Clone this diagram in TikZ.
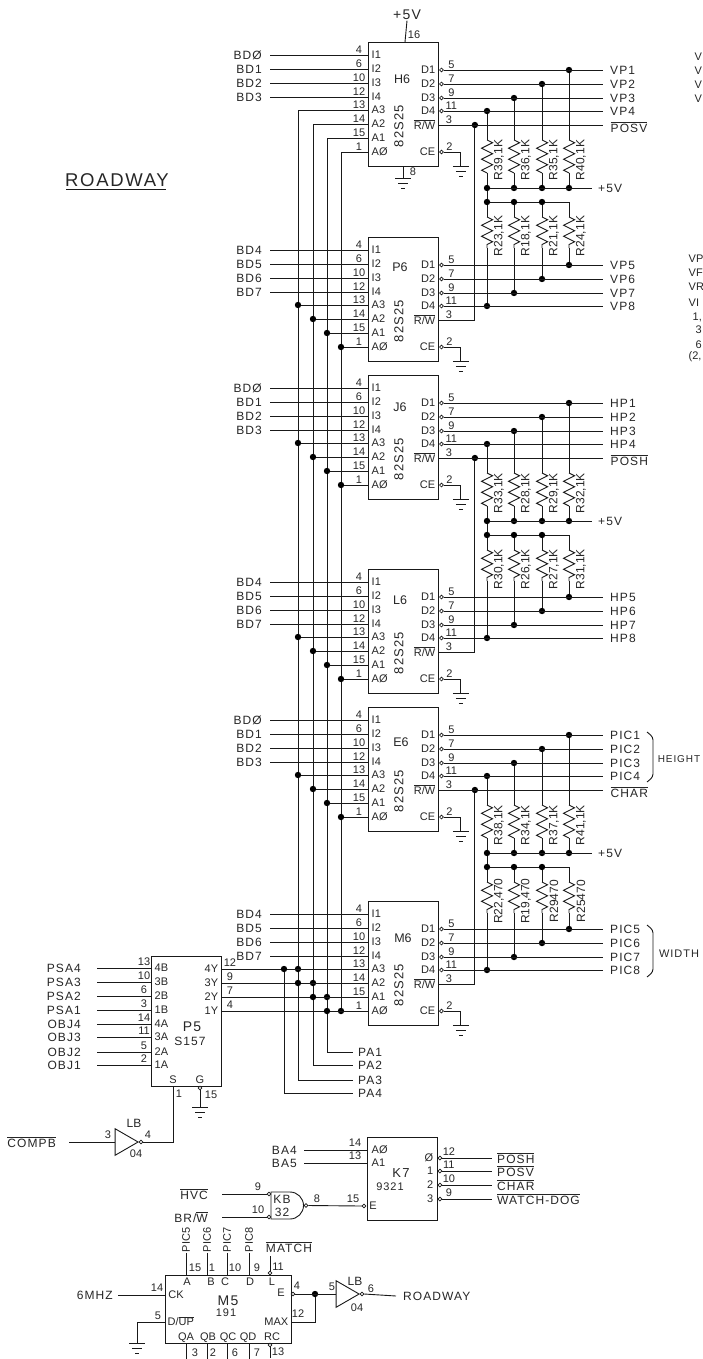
\documentclass[tikz,border=0pt]{standalone}
\usepackage{fontspec}
\setmainfont{Liberation Sans}
\newfontfamily\sigfont[LetterSpace=9]{Liberation Sans}
\usetikzlibrary{calc, shapes.geometric, decorations.pathmorphing}
\newcommand{\ovl}[1]{$\overline{\mbox{#1}}$}
\tikzset{
  gndsym/.pic={
    \draw[line width=0.9pt, black!90] (-8,0) -- (8,0);
    \draw[line width=0.9pt, black!90] (-5,5) -- (5,5);
    \draw[line width=0.9pt, black!90] (-2,10) -- (2,10);
  },
}

\begin{document}
\begin{tikzpicture}[
  x=1pt,y=-1pt,
  wire/.style={line width=0.9pt, draw=black!90},
  chip/.style={
    rectangle, draw=black!90, line width=0.9pt, inner sep=0pt,
    minimum width=70pt, minimum height=124pt, anchor=north west
  },
  junction/.style={circle, fill=black, inner sep=0pt, minimum size=6.4pt},
  bubble/.style={circle, draw=black!90, fill=white, line width=0.7pt, inner sep=0pt, minimum size=3.8pt},
  res/.style={wire, decorate, decoration={zigzag, amplitude=5.5pt, segment length=11pt}},
  sig/.style={font=\fontsize{12}{12}\sigfont, text=black!85, inner sep=0.5pt},
  sigin/.style={sig, anchor=east, inner xsep=8pt},
  sigout/.style={sig, anchor=west, inner xsep=7pt},
  pinnum/.style={font=\fontsize{11}{11}\selectfont, text=black!85, inner sep=0pt},
  chiplab/.style={font=\fontsize{11}{11}\selectfont, text=black!85, inner sep=0.5pt},
  reslab/.style={font=\fontsize{12}{12}\selectfont, text=black!85, inner sep=0pt, rotate=90},
  invtri/.style={
    isosceles triangle, isosceles triangle apex angle=60, draw=black!90, line width=0.9pt,
    inner sep=0pt, minimum height=23pt, anchor=apex
  }
]
\useasboundingbox (0,0) rectangle (703,1359);

% ---- Title ----
\node[font=\fontsize{18.5}{18.5}\sigfont, text=black!85, inner sep=0pt] (title) at (117,180) {ROADWAY};
\coordinate (title-ul) at (66,189);
\draw[line width=0.9pt, black!90] (title-ul) -- ++(100,0);

% ---- Six 82S25 chips ----
\foreach \chipname/\ytop/\lx/\ly in {H6/42/34/37, P6/237/32/30, J6/375/32/32, L6/569/32/31, E6/707/33/35, M6/901/35/37}{
  \node[chip] (\chipname) at (368,\ytop) {};
  \node[chiplab, font=\fontsize{12.5}{12.5}\selectfont] (\chipname-ref) at ($(\chipname.north west)+(\lx,\ly)$) {\chipname};
  \node[chiplab, rotate=90] (\chipname-type) at ($(\chipname.north west)+(31,84)$) {\fontsize{13}{13}\sigfont 82S25};
  \foreach \pin/\txt/\num/\off in {I1/I1/4/13, I2/I2/6/27, I3/I3/10/41, I4/I4/12/55, A3/A3/13/68, A2/A2/14/82, A1/A1/15/96, A0/A\O/1/110}{
    \coordinate (\chipname-\pin) at ($(\chipname.north west)+(0,\off)$);
    \node[chiplab, anchor=west] (\chipname-\pin-t) at ($(\chipname-\pin)+(3,0)$) {\txt};
    \node[pinnum] (\chipname-\pin-n) at ($(\chipname-\pin)+(-9,-5)$) {\num};
  }
  \foreach \pin/\num/\off in {D1/5/28, D2/7/42, D3/9/56, D4/11/69}{
    \node[bubble] (\chipname-\pin) at ($(\chipname.north east)+(2.5,\off)$) {};
    \node[chiplab, anchor=east] (\chipname-\pin-t) at ($(\chipname.north east)+(-3,\off)$) {\pin};
    \node[pinnum] (\chipname-\pin-n) at ($(\chipname-\pin)+(10,-5)$) {\num};
  }
  \coordinate (\chipname-RW) at ($(\chipname.north east)+(0,83)$);
  \node[chiplab, anchor=east] (\chipname-RW-t) at ($(\chipname-RW)+(-3,0)$) {\ovl{R/W}};
  \node[pinnum] (\chipname-RW-n) at ($(\chipname-RW)+(10,-5)$) {3};
  % ---- CE to ground ----
  \node[bubble] (\chipname-CE) at ($(\chipname.north east)+(2.5,110)$) {};
  \node[chiplab, anchor=east] (\chipname-CE-t) at ($(\chipname.north east)+(-3,110)$) {CE};
  \node[pinnum] (\chipname-CE-n) at ($(\chipname-CE)+(8,-5)$) {2};
  \coordinate (\chipname-gnd) at ($(\chipname.south east)+(22,0)$);
  \draw[wire] (\chipname-CE.east) -| (\chipname-gnd);
  \pic at (\chipname-gnd) {gndsym};
}

% ---- Power and ground on H6 ----
\coordinate (H6-vcc) at ($(H6.north west)+(37,0)$);
\node[sig, font=\fontsize{14}{14}\sigfont] (vcc) at (407,15) {+5V};
\node[pinnum] (vcc-n) at (414,35) {16};
\draw[wire] (vcc.south) -- (H6-vcc);
\coordinate (H6-vss) at ($(H6.south west)+(35,12)$);
\draw[wire] ($(H6.south west)+(35,0)$) -- (H6-vss);
\pic at (H6-vss) {gndsym};
\node[pinnum] (vss-n) at (413,172) {8};

% ---- Data inputs ----
\foreach \chipname/\bda/\bdb/\bdc/\bdd in {H6/BD\O/BD1/BD2/BD3, J6/BD\O/BD1/BD2/BD3, E6/BD\O/BD1/BD2/BD3,
    P6/BD4/BD5/BD6/BD7, L6/BD4/BD5/BD6/BD7, M6/BD4/BD5/BD6/BD7}{
  \foreach \pin/\sname in {I1/\bda, I2/\bdb, I3/\bdc, I4/\bdd}{
    \node[sigin] (\chipname-\pin-s) at (\chipname-\pin -| 270,0) {\sname};
    \draw[wire] (\chipname-\pin-s.east) -- (\chipname-\pin);
  }
}

% ---- Address bus ----
\coordinate (bus3) at (298,1080);
\coordinate (bus2) at (313,1065);
\coordinate (bus1) at (327,1052);
\coordinate (bus0) at (341,1011);
\coordinate (bus4) at (284,1093);
\node[sig, anchor=west, inner xsep=5pt] (pa4) at (bus4 -| 353,0) {PA4};
\node[sig, anchor=west, inner xsep=5pt] (pa3) at (bus3 -| 353,0) {PA3};
\node[sig, anchor=west, inner xsep=5pt] (pa2) at (bus2 -| 353,0) {PA2};
\node[sig, anchor=west, inner xsep=5pt] (pa1) at (bus1 -| 353,0) {PA1};
\draw[wire] (H6-A3) -| (bus3) -- (pa3.west);
\draw[wire] (H6-A2) -| (bus2) -- (pa2.west);
\draw[wire] (H6-A1) -| (bus1) -- (pa1.west);
\draw[wire] (H6-A0) -| (bus0);
\foreach \chipname in {P6,J6,L6,E6,M6}{
  \foreach \pin/\b in {A3/bus3, A2/bus2, A1/bus1, A0/bus0}{
    \node[junction] (\chipname-j\pin) at (\chipname-\pin -| \b) {};
    \draw[wire] (\chipname-j\pin) -- (\chipname-\pin);
  }
}

% ---- Resistor packs, +5V and outputs ----
\coordinate (colD4) at (487,0);
\coordinate (colD3) at (514,0);
\coordinate (colD2) at (542,0);
\coordinate (colD1) at (569,0);
\foreach \ua/\la/\rs/\rt/\ru/\rv/\rw/\rx/\ry/\rz in {
    H6/P6/{R39,1K}/{R36,1K}/{R35,1K}/{R40,1K}/{R23,1K}/{R18,1K}/{R21,1K}/{R24,1K},
    J6/L6/{R33,1K}/{R28,1K}/{R29,1K}/{R32,1K}/{R30,1K}/{R26,1K}/{R27,1K}/{R31,1K},
    E6/M6/{R38,1K}/{R34,1K}/{R37,1K}/{R41,1K}/{R22,470}/{R19,470}/R29470/R25470}{
  \coordinate (\ua-bus) at ($(\ua.north west)+(0,146)$);
  \coordinate (\ua-tie) at ($(\ua.north west)+(0,160)$);
  \foreach \pin/\labup/\labdn in {D4/\rs/\rw, D3/\rt/\rx, D2/\ru/\ry, D1/\rv/\rz}{
    % upper resistor
    \node[junction] (\ua-j\pin) at (\ua-\pin -| col\pin) {};
    \node[junction] (\ua-b\pin) at (\ua-bus -| col\pin) {};
    \coordinate (\ua-ra\pin) at ($(\ua.north -| col\pin)+(0,98)$);
    \coordinate (\ua-rb\pin) at ($(\ua.north -| col\pin)+(0,131)$);
    \draw[wire] (\ua-j\pin) -- (\ua-ra\pin);
    \draw[res] (\ua-ra\pin) -- (\ua-rb\pin);
    \draw[wire] (\ua-rb\pin) -- (\ua-b\pin);
    \node[reslab] (\ua-t\pin) at ($(\ua.north -| col\pin)+(12,118)$) {\labup};
    % lower resistor
    \coordinate (\ua-c\pin) at (\ua-tie -| col\pin);
    \node[junction] (\la-j\pin) at (\la-\pin -| col\pin) {};
    \coordinate (\ua-rc\pin) at ($(\ua.north -| col\pin)+(0,175)$);
    \coordinate (\ua-rd\pin) at ($(\ua.north -| col\pin)+(0,206)$);
    \draw[wire] (\ua-c\pin) -- (\ua-rc\pin);
    \draw[res] (\ua-rc\pin) -- (\ua-rd\pin);
    \draw[wire] (\ua-rd\pin) -- (\la-j\pin);
    \node[reslab] (\la-t\pin) at ($(\ua.north -| col\pin)+(12,194)$) {\labdn};
  }
  \node[sig, anchor=west, inner xsep=6pt] (\ua-vlab) at (\ua-bus -| 592,0) {+5V};
  \draw[wire] (\ua-bD4) -- (\ua-vlab.west);
  \draw[wire] (\ua-cD4) -- (\ua-cD1);
  \draw[wire] (\ua-bD4) -- (\ua-cD4);
  \foreach \pin in {D4,D3,D2}{
    \node[junction] (\ua-d\pin) at (\ua-c\pin) {};
  }
  % ---- R/W rail ----
  \node[junction] (\ua-jRW) at ($(\ua-RW)+(36,0)$) {};
  \draw[wire] (\la-RW) -| (\ua-jRW);
}

% ---- Output names ----
\foreach \chipname/\sa/\sb/\sc/\sd in {H6/VP1/VP2/VP3/VP4, P6/VP5/VP6/VP7/VP8, J6/HP1/HP2/HP3/HP4,
    L6/HP5/HP6/HP7/HP8, E6/PIC1/PIC2/PIC3/PIC4, M6/PIC5/PIC6/PIC7/PIC8}{
  \foreach \pin/\sname in {D1/\sa, D2/\sb, D3/\sc, D4/\sd}{
    \node[sigout] (\chipname-\pin-s) at (\chipname-\pin -| 603,0) {\sname};
    \draw[wire] (\chipname-\pin.east) -- (\chipname-\pin-s.west);
  }
}
\foreach \chipname/\sname in {H6/POSV, J6/POSH, E6/CHAR}{
  \coordinate (\chipname-rwend) at (\chipname-RW -| 603,0);
  \node[sig, anchor=west] (\chipname-rwlab) at ($(\chipname-RW -| 610,0)+(0,2)$) {\ovl{\sname}};
  \draw[wire] (\chipname-RW) -- (\chipname-rwend);
}

% ---- Braces ----
\draw[wire, rounded corners=3pt] (647,732) -- (653,737) -- (653,777) -- (647,782);
\draw[wire, rounded corners=3pt] (647,925) -- (653,930) -- (653,972) -- (647,977);
\node[chiplab] (height) at (679,759) {\fontsize{10}{10}\sigfont HEIGHT};
\node[chiplab] (width) at (679,954) {\fontsize{11}{11}\sigfont WIDTH};

% ---- Cut off at the right edge ----
\foreach \txt/\tx/\ty [count=\i] in {V/694/57, V/694/71, V/694/85, V/694/99, VP/688/259, VF/688/273, VR/688/287, VI/688/303,
    {1,}/692/317, 3/695/330, 6/695/345, {(2,}/688/357}{
  \node[chiplab, anchor=west] (edge\i) at (\tx,\ty) {\txt};
}

% ---- P5 mux ----
\node[chip, minimum height=130pt] (P5) at (151,956) {};
\node[chiplab, font=\fontsize{14}{14}\sigfont] (P5-ref) at (192,1027) {P5};
\node[chiplab, font=\fontsize{12}{12}\sigfont] (P5-type) at (190,1041) {S157};
\foreach \pin/\num/\off/\sname in {4B/13/12/PSA4, 3B/10/26/PSA3, 2B/6/40/PSA2, 1B/3/54/PSA1, 4A/14/68/OBJ4, 3A/11/81/OBJ3, 2A/5/96/OBJ2, 1A/2/109/OBJ1}{
  \coordinate (P5-\pin) at ($(P5.north west)+(0,\off)$);
  \node[chiplab, anchor=west] (P5-\pin-t) at ($(P5-\pin)+(3,0)$) {\pin};
  \node[pinnum] (P5-\pin-n) at ($(P5-\pin)+(-7,-6)$) {\num};
  \node[sig, anchor=east, inner xsep=16pt] (P5-\pin-s) at (P5-\pin -| 97,0) {\sname};
  \draw[wire] (P5-\pin-s.east) -- (P5-\pin);
}
\foreach \pin/\num/\off/\dest in {4Y/12/13/A3, 3Y/9/27/A2, 2Y/7/41/A1, 1Y/4/55/A0}{
  \coordinate (P5-\pin) at ($(P5.north east)+(0,\off)$);
  \node[chiplab, anchor=east] (P5-\pin-t) at ($(P5-\pin)+(-3,0)$) {\pin};
  \node[pinnum] (P5-\pin-n) at ($(P5-\pin)+(8,-6)$) {\num};
  \draw[wire] (P5-\pin) -- (M6-\dest);
}
\node[junction] (j4Y) at (P5-4Y -| bus4) {};
\node[junction] (j3Y) at (P5-3Y -| bus3) {};
\node[junction] (j2Y) at (P5-2Y -| bus2) {};
\node[junction] (j1Y) at (P5-1Y -| bus1) {};
\draw[wire] (j4Y) |- (pa4.west);

% ---- Select and strobe ----
\coordinate (P5-S) at (173,1086);
\node[chiplab] (P5-St) at (173,1080) {S};
\node[pinnum] (P5-Sn) at (179,1094) {1};
\node[bubble] (P5-G) at (200,1088) {};
\node[chiplab] (P5-Gt) at (200,1080) {G};
\node[pinnum] (P5-Gn) at (211,1095) {15};
\coordinate (P5-gnd) at (200,1107);
\draw[wire] (P5-G) -- (P5-gnd);
\pic at (P5-gnd) {gndsym};

\node[invtri] (inv1) at (139,1142) {};
\node[bubble] (inv1-o) at (141,1142) {};
\node[chiplab, font=\fontsize{12}{12}\selectfont] (inv1-ref) at (134,1123) {LB};
\node[pinnum] (inv1-i) at (108,1135) {3};
\node[pinnum] (inv1-n) at (148,1135) {4};
\node[chiplab] (inv1-type) at (136,1154) {04};
\node[sig, anchor=east, inner xsep=13pt] (compb) at (69,1142) {\ovl{COMPB}};
\draw[wire] (compb.east) -- (inv1.west);
\draw[wire] (inv1-o.east) -| (P5-S);

% ---- K7 decoder ----
\node[chip, minimum height=83pt] (K7) at (367,1137) {};
\node[chiplab, font=\fontsize{13}{13}\sigfont] (K7-ref) at (401,1173) {K7};
\node[chiplab, font=\fontsize{11}{11}\sigfont] (K7-type) at (390,1187) {9321};
\foreach \pin/\txt/\num/\off/\sname in {A0/A\O/14/13/BA4, A1/A1/13/26/BA5}{
  \coordinate (K7-\pin) at ($(K7.north west)+(0,\off)$);
  \node[chiplab, anchor=west] (K7-\pin-t) at ($(K7-\pin)+(4,0)$) {\txt};
  \node[pinnum] (K7-\pin-n) at ($(K7-\pin)+(-12,-7)$) {\num};
  \node[sig, anchor=east, inner xsep=7pt] (K7-\pin-s) at (K7-\pin -| 304,0) {\sname};
  \draw[wire] (K7-\pin-s.east) -- (K7-\pin);
}
\foreach \pin/\txt/\num/\off/\sname in {Q0/\O/12/21/POSH, Q1/1/11/34/POSV, Q2/2/10/48/CHAR}{
  \node[bubble] (K7-\pin) at ($(K7.north east)+(2,\off)$) {};
  \node[chiplab, anchor=east] (K7-\pin-t) at ($(K7.north east)+(-4,\off)$) {\txt};
  \node[pinnum] (K7-\pin-n) at ($(K7-\pin)+(9,-6)$) {\num};
  \node[sig, anchor=west, inner xsep=5pt] (K7-\pin-s) at (K7-\pin -| 492,0) {\ovl{\sname}};
  \draw[wire] (K7-\pin.east) -- (K7-\pin-s.west);
}
\node[bubble] (K7-Q3) at ($(K7.north east)+(2,62)$) {};
\node[chiplab, anchor=east] (K7-Q3-t) at ($(K7.north east)+(-4,62)$) {3};
\node[pinnum] (K7-Q3-n) at ($(K7-Q3)+(9,-6)$) {9};
\node[sig, anchor=west, inner xsep=5pt] (K7-Q3-s) at (K7-Q3 -| 492,0) {\ovl{WATCH-DOG}};
\draw[wire] (K7-Q3.east) -- (K7-Q3-s.west);
\node[bubble] (K7-E) at (364,1206) {};
\node[chiplab] (K7-Et) at (373,1206) {E};
\node[pinnum] (K7-En) at (353,1199) {15};

% ---- KB NAND gate ----
\draw[wire] (271,1192) -- (290,1192) arc (90:-90:13.5pt) -- (271,1219) -- cycle;
\node[bubble] (KB-a) at (269,1194) {};
\node[bubble] (KB-b) at (269,1217) {};
\node[bubble] (KB-o) at (306,1205.5) {};
\node[chiplab, font=\fontsize{12}{12}\sigfont] (KB-ref) at (282,1199) {KB};
\node[chiplab, font=\fontsize{12}{12}\sigfont] (KB-type) at (282,1212) {32};
\node[pinnum] (KB-an) at (258,1187) {9};
\node[pinnum] (KB-bn) at (258,1210) {10};
\node[pinnum] (KB-on) at (317,1199) {8};
\node[sig, anchor=east, inner xsep=14pt] (hvc) at (222,1194) {\ovl{HVC}};
\node[sig, anchor=east, inner xsep=14pt] (brw) at (222,1217) {BR/\ovl{W}};
\draw[wire] (hvc.east) -- (KB-a.west);
\draw[wire] (brw.east) -- (KB-b.west);
\draw[wire] (KB-o.east) -- (K7-E.west);

% ---- M5 counter ----
\node[chip, minimum width=126pt, minimum height=68pt] (M5) at (165,1275) {};
\node[chiplab, font=\fontsize{14}{14}\sigfont] (M5-ref) at (228,1301) {M5};
\node[chiplab, font=\fontsize{11}{11}\sigfont] (M5-type) at (226,1313) {191};
\foreach \pin/\xoff/\lx/\num/\nx/\sname in {A/21/22/15/30/PIC5, B/42/46/1/47/PIC6, C/62/60/10/70/PIC7, D/84/85/9/92/PIC8}{
  \coordinate (M5-\pin) at ($(M5.north west)+(\xoff,0)$);
  \node[chiplab] (M5-\pin-t) at ($(M5.north west)+(\lx,7)$) {\pin};
  \node[pinnum] (M5-\pin-n) at ($(M5.north west)+(\nx,-7)$) {\num};
  \node[chiplab, rotate=90] (M5-\pin-s) at ($(M5-\pin)+(0,-35)$) {\sname};
  \draw[wire] (M5-\pin-s.west) -- (M5-\pin);
}
\node[bubble] (M5-L) at (270,1273) {};
\node[chiplab] (M5-Lt) at (272,1282) {L};
\node[pinnum] (M5-Ln) at (278,1267) {11};
\coordinate (M5-Lend) at (270,1256);
\draw[wire] (M5-L) -- (M5-Lend);
\node[sig] (match) at (289,1247) {\ovl{MATCH}};
\foreach \pin/\xoff/\lx/\num/\nx in {QA/21/21/3/30, QB/42/43/2/48, QC/62/63/6/70, QD/84/83/7/92}{
  \coordinate (M5-\pin) at ($(M5.south west)+(\xoff,0)$);
  \coordinate (M5-\pin-end) at ($(M5-\pin)+(0,15)$);
  \node[chiplab] (M5-\pin-t) at ($(M5.south west)+(\lx,-6)$) {\pin};
  \node[pinnum] (M5-\pin-n) at ($(M5.south west)+(\nx,9)$) {\num};
  \draw[wire] (M5-\pin) -- (M5-\pin-end);
}
\node[bubble] (M5-RC) at (270,1345) {};
\node[chiplab] (M5-RCt) at (272,1337) {RC};
\node[pinnum] (M5-RCn) at (278,1352) {13};
\coordinate (M5-RCend) at (270,1358);
\draw[wire] (M5-RC) -- (M5-RCend);
\coordinate (M5-CK) at (165,1295);
\node[chiplab] (M5-CKt) at (176,1295) {CK};
\node[pinnum] (M5-CKn) at (157,1288) {14};
\node[sig, anchor=east, inner xsep=5pt] (clk) at (118,1295) {6MHZ};
\draw[wire] (clk.east) -- (M5-CK);
\coordinate (M5-DU) at (165,1322);
\node[chiplab, anchor=west] (M5-DUt) at (167,1321) {D/\ovl{UP}};
\node[pinnum] (M5-DUn) at (158,1316) {5};
\coordinate (M5-gnd) at (137,1343);
\draw[wire] (M5-DU) -| (M5-gnd);
\pic at (M5-gnd) {gndsym};
\node[bubble] (M5-E) at (293,1294) {};
\node[chiplab] (M5-Et) at (281,1293) {E};
\node[pinnum] (M5-En) at (297,1286) {4};
\coordinate (M5-MX) at (291,1322);
\node[chiplab, anchor=east] (M5-MXt) at (289,1322) {MAX};
\node[pinnum] (M5-MXn) at (298,1314) {12};

% ---- Output inverter ----
\node[invtri] (inv2) at (360,1294) {};
\node[bubble] (inv2-o) at (362,1294) {};
\node[junction] (j-max) at (315,1294) {};
\node[chiplab, font=\fontsize{12}{12}\selectfont] (inv2-ref) at (355,1281) {LB};
\node[pinnum] (inv2-i) at (332,1287) {5};
\node[pinnum] (inv2-n) at (371,1289) {6};
\node[chiplab] (inv2-type) at (357,1308) {04};
\node[sig, anchor=west, inner xsep=7pt] (roadway) at (396,1296) {ROADWAY};
\draw[wire] (M5-E.east) -- (inv2.west);
\draw[wire] (M5-MX) -| (j-max);
\draw[wire] (inv2-o.east) -- (roadway.west);

\end{tikzpicture}
\end{document}
